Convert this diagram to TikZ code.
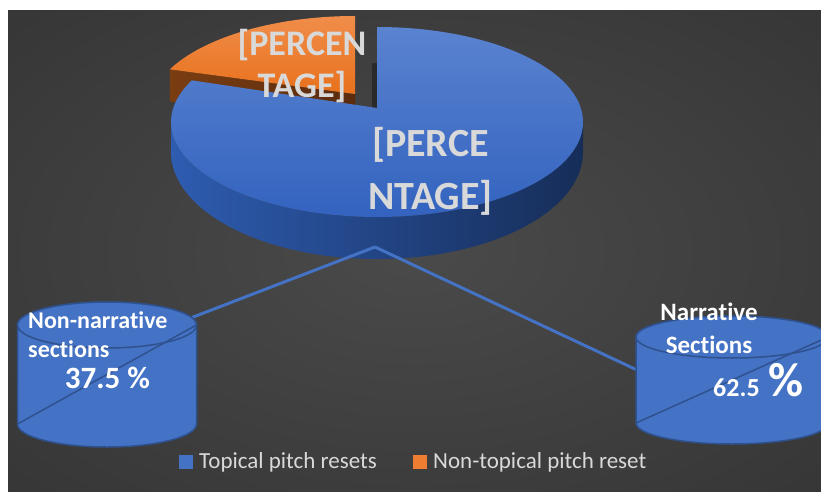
\documentclass[tikz,border=0pt]{standalone}
\usepackage{fontspec}
\setmainfont[Ligatures=NoCommon]{Carlito}
\usetikzlibrary{calc}

\definecolor{bginner}{HTML}{4A4A4A}
\definecolor{bgouter}{HTML}{222222}
\definecolor{accentblue}{HTML}{4472C4}
\definecolor{edgeblue}{HTML}{2F528F}
\definecolor{accentorange}{HTML}{ED7D31}
\definecolor{labelgray}{HTML}{D9D9D9}
\definecolor{cutbrownA}{HTML}{7A3D12}
\definecolor{cutbrownB}{HTML}{5A2C0E}
\definecolor{orangehi}{HTML}{F08D4A}
\definecolor{orangelo}{HTML}{E8711C}
\definecolor{gapgray}{HTML}{2A2A2A}
\definecolor{rimblueA}{HTML}{2E5CB0}
\definecolor{rimblueB}{HTML}{162D58}
\definecolor{topblueA}{HTML}{5A83D0}
\definecolor{topblueB}{HTML}{3363BF}

\pgfdeclareradialshading{bgglow}{\pgfpoint{0bp}{0bp}}{%
  color(0bp)=(bginner); color(72bp)=(bgouter)}

\tikzset{
  drumbody/.style={fill=accentblue, draw=edgeblue, line width=1.5pt},
  drumline/.style={draw=edgeblue, line width=1.5pt},
  leader/.style={draw=accentblue, line width=3pt},
  slicelabel/.style={text=labelgray, font=\bfseries, align=center, inner sep=0pt},
  drumlabel/.style={text=white, font=\bfseries, inner sep=0pt},
  keytext/.style={text=labelgray, inner sep=0pt, anchor=west,
    font=\fontsize{23}{27}\selectfont},
}

\begin{document}
\begin{tikzpicture}[x=1pt, y=-1pt]
\useasboundingbox (0,0) rectangle (821,492);
\fill[white] (0,0) rectangle (821,492);
\shade[shading=bgglow] (8,11) rectangle (821,492);

% --- exploded orange slice: cut face, then top face
\shade[left color=cutbrownA, right color=cutbrownB]
  (169.8,69.4) -- (355,94) -- (355,126) -- (169.8,101.4) -- cycle;
\shade[top color=orangehi, bottom color=orangelo]
  (355,94) -- (355,16) arc[start angle=270, end angle=206, x radius=206, y radius=95] -- cycle;

% --- cut face of the blue slice, seen edge-on
\fill[gapgray] (372,63) rectangle (377,108);

% --- blue slice: rim, then top face
\shade[left color=rimblueA, right color=rimblueB]
  (171,122) arc[start angle=180, end angle=0, x radius=206, y radius=95]
  -- (583,152) arc[start angle=0, end angle=180, x radius=206, y radius=107] -- cycle;
\shade[top color=topblueA, bottom color=topblueB]
  (377,108) -- (377,27) arc[start angle=-90, end angle=206, x radius=206, y radius=95] -- cycle;

% --- slice labels
\node[slicelabel, font=\bfseries\fontsize{36}{42}\selectfont] (orangelabel) at (302,66) {[PERCEN\\TAGE]};
\node[slicelabel, font=\bfseries\fontsize{40}{53}\selectfont] (bluelabel) at (430.5,171) {[PERCE\\NTAGE]};

% --- leader lines from the pie to the two drums
\coordinate (pietip) at (375,247);
\coordinate (leftrim) at (192,317.5);
\coordinate (rightside) at (637,370);
\draw[leader] (pietip) -- (leftrim);
\draw[leader] (pietip) -- (rightside);

% --- left drum
\filldraw[drumbody] (17.5,325) -- (17.5,424)
  arc[start angle=180, end angle=0, x radius=89.5, y radius=23] -- (196.5,325)
  arc[start angle=0, end angle=-180, x radius=89.5, y radius=23] -- cycle;
\filldraw[drumbody] (107,325) ellipse[x radius=89.5, y radius=23];
\coordinate (ldrumbl) at (17.5,424);
\coordinate (ldrumtr) at (196.5,325);
\draw[drumline] (ldrumbl) -- (ldrumtr);

% --- right drum
\filldraw[drumbody] (636,337) -- (636,423)
  arc[start angle=180, end angle=0, x radius=96, y radius=21] -- (828,337)
  arc[start angle=0, end angle=-180, x radius=96, y radius=21] -- cycle;
\filldraw[drumbody] (732,337) ellipse[x radius=96, y radius=21];
\coordinate (rdrumbl) at (636,423);
\coordinate (rdrumtr) at (828,337);
\draw[drumline] (rdrumbl) -- (rdrumtr);

% --- drum labels
\node[drumlabel, align=left, anchor=west, font=\bfseries\fontsize{24}{29}\selectfont]
  (nonnarr) at (28,334.5) {Non-narrative\\sections};
\node[drumlabel, font=\bfseries\fontsize{31}{31}\selectfont] (nonnarrpct) at (107.5,378) {37.5 \%};
\node[drumlabel, align=center, font=\bfseries\fontsize{25}{33}\selectfont]
  (narr) at (709,328.5) {Narrative\\Sections};
\node[drumlabel, anchor=base west, font=\bfseries\fontsize{26}{26}\selectfont]
  (narrpct) at (713,396) {62.5\hspace{9pt}{\fontsize{48}{48}\selectfont\%}};

% --- legend
\fill[accentblue] (179,455) rectangle (193,469);
\node[keytext] (keyblue) at (199,462) {Topical pitch resets};
\fill[accentorange] (413,455) rectangle (427,469);
\node[keytext] (keyorange) at (433,462) {Non-topical pitch reset};
\end{tikzpicture}
\end{document}
